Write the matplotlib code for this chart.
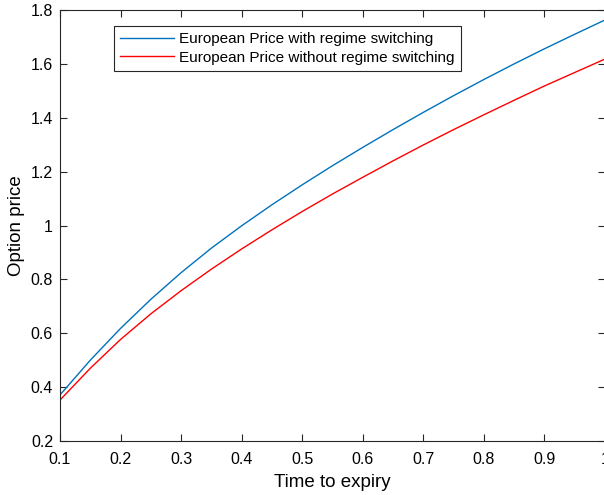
import matplotlib
matplotlib.use('Agg')
import matplotlib.pyplot as plt

# time to expiry and option prices
t = [0.1, 0.15, 0.2, 0.25, 0.3, 0.35, 0.4, 0.45, 0.5, 0.55,
     0.6, 0.65, 0.7, 0.75, 0.8, 0.85, 0.9, 0.95, 1.0]
price_rs = [0.371, 0.500, 0.618, 0.726, 0.825, 0.916, 0.999, 1.077, 1.151, 1.222,
            1.290, 1.356, 1.420, 1.482, 1.542, 1.600, 1.656, 1.710, 1.763]
price_no_rs = [0.352, 0.470, 0.577, 0.672, 0.758, 0.838, 0.913, 0.984, 1.052, 1.117,
               1.179, 1.240, 1.299, 1.356, 1.411, 1.465, 1.518, 1.568, 1.618]

xticks = [0.1, 0.2, 0.3, 0.4, 0.5, 0.6, 0.7, 0.8, 0.9, 1.0]
xticklabels = ['0.1', '0.2', '0.3', '0.4', '0.5', '0.6', '0.7', '0.8', '0.9', '1']
yticks = [0.2, 0.4, 0.6, 0.8, 1.0, 1.2, 1.4, 1.6, 1.8]
yticklabels = ['0.2', '0.4', '0.6', '0.8', '1', '1.2', '1.4', '1.6', '1.8']

plt.rcParams['font.family'] = ['Liberation Sans', 'DejaVu Sans']

fig = plt.figure(figsize=(6.04, 4.95), dpi=100)
ax = fig.add_axes([60 / 604, 54 / 495, 545 / 604, 431 / 495])

ax.plot(t, price_rs, color='#0072BD', lw=1.0, label='European Price with regime switching')
ax.plot(t, price_no_rs, color='#FF0000', lw=1.0, label='European Price without regime switching')

ax.set_xlim(0.1, 1.0)
ax.set_ylim(0.2, 1.8)
ax.set_xticks(xticks)
ax.set_xticklabels(xticklabels)
ax.set_yticks(yticks)
ax.set_yticklabels(yticklabels)

axcol = '#262626'
for s in ax.spines.values():
    s.set_color(axcol)
    s.set_linewidth(0.8)
ax.tick_params(direction='in', length=5, width=0.8, color=axcol, labelsize=11.5,
               labelcolor='black', top=True, right=True)
ax.tick_params(axis='x', pad=8)
ax.tick_params(axis='y', pad=5)

ax.set_xlabel('Time to expiry', fontsize=13.5, labelpad=5)
ax.set_ylabel('Option price', fontsize=13.5, labelpad=4)

leg = ax.legend(loc='upper left', bbox_to_anchor=(114 / 604, 1 - 26 / 495),
                bbox_transform=fig.transFigure, borderaxespad=0, fontsize=11,
                fancybox=False, framealpha=1, edgecolor=axcol,
                handlelength=3.5, handletextpad=0.35, borderpad=0.4,
                labelspacing=0.3)
leg.get_frame().set_linewidth(0.8)

fig.savefig('out.png', dpi=100)
